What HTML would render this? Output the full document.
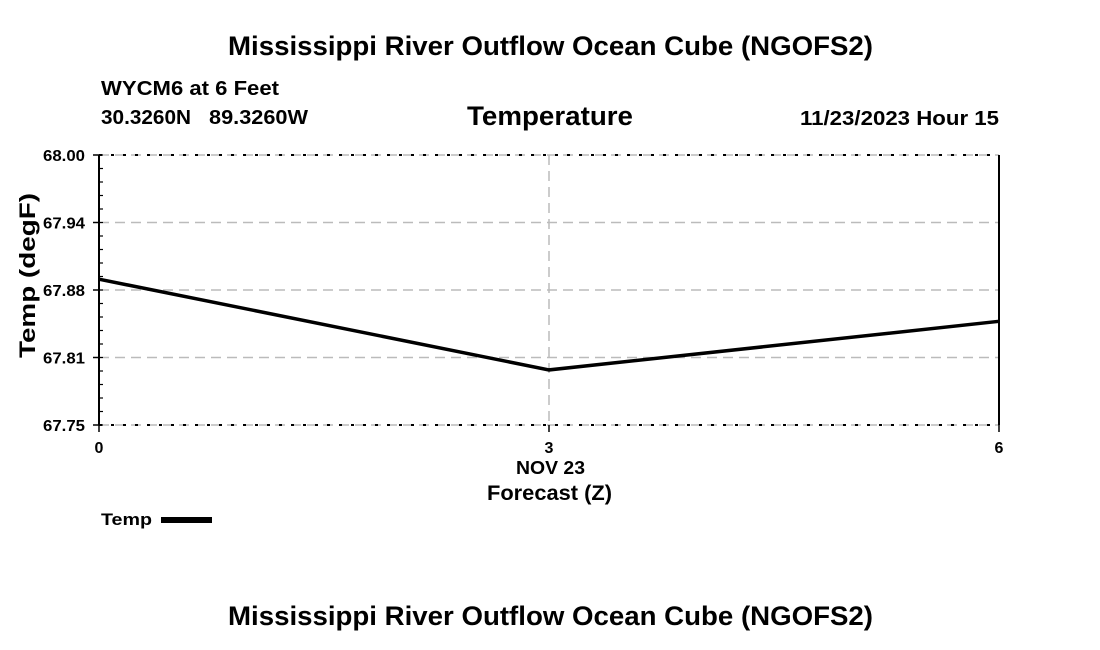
<!DOCTYPE html>
<html><head><meta charset="utf-8"><style>
body{margin:0;background:#fff;}
svg{display:block;font-family:"Liberation Sans",Arial,sans-serif;font-weight:bold;}
</style></head><body>
<svg id="c" width="1100" height="650" viewBox="0 0 1100 650">
<text x="228" y="55" font-size="27" textLength="645" lengthAdjust="spacingAndGlyphs">Mississippi River Outflow Ocean Cube (NGOFS2)</text>
<text x="101" y="95" font-size="20" textLength="178" lengthAdjust="spacingAndGlyphs">WYCM6 at 6 Feet</text>
<text x="101" y="124" font-size="20" textLength="90" lengthAdjust="spacingAndGlyphs">30.3260N</text>
<text x="209" y="124" font-size="20" textLength="99" lengthAdjust="spacingAndGlyphs">89.3260W</text>
<text x="467" y="125" font-size="27" textLength="166" lengthAdjust="spacingAndGlyphs">Temperature</text>
<text x="800" y="125" font-size="20" textLength="199" lengthAdjust="spacingAndGlyphs">11/23/2023 Hour 15</text>
<text transform="translate(35,358) rotate(-90)" font-size="22" textLength="165" lengthAdjust="spacingAndGlyphs">Temp (degF)</text>
<text x="516" y="474" font-size="18" textLength="69" lengthAdjust="spacingAndGlyphs">NOV 23</text>
<text x="487" y="500" font-size="21" textLength="125" lengthAdjust="spacingAndGlyphs">Forecast (Z)</text>
<text x="101" y="525" font-size="17" textLength="51" lengthAdjust="spacingAndGlyphs">Temp</text>
<rect x="161" y="517" width="51" height="6" fill="#000"/>
<text x="228" y="625" font-size="27" textLength="645" lengthAdjust="spacingAndGlyphs">Mississippi River Outflow Ocean Cube (NGOFS2)</text>
<g id="plot"></g>
</svg>
<script>
const hours=[0,3,6];
const temps=[67.885,67.801,67.846];
const yTicks=[67.75,67.8125,67.875,67.9375,68.0];
const yTickLabels=["67.75","67.81","67.88","67.94","68.00"];
const xTicks=[0,3,6];
const xTickLabels=["0","3","6"];
const X0=99,X1=999,Y0=425,Y1=155,ymin=67.75,ymax=68.0,xmin=0,xmax=6;
const xs=v=>X0+(v-xmin)/(xmax-xmin)*(X1-X0);
const ys=v=>Y0-(v-ymin)/(ymax-ymin)*(Y0-Y1);
const g=document.getElementById('plot');const NS='http://www.w3.org/2000/svg';
function mk(t,a){const e=document.createElementNS(NS,t);for(const k in a)e.setAttribute(k,a[k]);g.appendChild(e);return e;}
yTicks.forEach((v,i)=>{
 const l=mk('line',{x1:X0,x2:X1,y1:ys(v),y2:ys(v),stroke:'#bbb','stroke-width':1.5,'stroke-dasharray':'10,6'});
 
 
 const t=mk('text',{x:X0-56,y:ys(v)+6,'font-size':16,textLength:42,lengthAdjust:'spacingAndGlyphs'});t.textContent=yTickLabels[i];
 
 
 const tk=mk('line',{x1:X0-6,x2:X0,y1:ys(v),y2:ys(v),stroke:'#000','stroke-width':1.5});
 
 
});
for(let v=ymin;v<=ymax+1e-9;v+=0.0125){
 const m=mk('line',{x1:X0,x2:X0+4,y1:ys(v),y2:ys(v),stroke:'#000','stroke-width':1.2});
 
 
}
xTicks.forEach((v,i)=>{
 const l=mk('line',{x1:xs(v),x2:xs(v),y1:Y1,y2:Y0,stroke:'#bbb','stroke-width':1.5,'stroke-dasharray':'10,6'});
 
 
 const t=mk('text',{x:xs(v),y:Y0+28,'font-size':16,'text-anchor':'middle'});t.textContent=xTickLabels[i];
 
 
 const tk=mk('line',{x1:xs(v),x2:xs(v),y1:Y0,y2:Y0+7,stroke:'#000','stroke-width':1.5});
 
 
});
[[X0,Y1,X1,Y1],[X0,Y0,X1,Y0]].forEach(a=>{
 const l=mk('line',{x1:a[0],y1:a[1],x2:a[2],y2:a[3],stroke:'#000','stroke-width':2,'stroke-dasharray':'3,9'});
 
 
});
[[X0,Y1,X0,Y0],[X1,Y1,X1,Y0]].forEach(a=>{
 const l=mk('line',{x1:a[0],y1:a[1],x2:a[2],y2:a[3],stroke:'#000','stroke-width':2});
 
 
});
const p=mk('polyline',{points:hours.map((h,i)=>xs(h)+','+ys(temps[i])).join(' '),fill:'none',stroke:'#000','stroke-width':3.5});


</script>
</body></html>
